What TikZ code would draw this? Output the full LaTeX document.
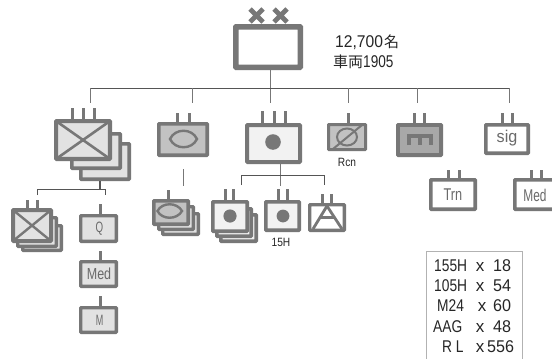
\documentclass[tikz,border=0pt]{standalone}
\usepackage{fontspec}
\setmainfont{Liberation Sans}
\newfontfamily\cjk{Noto Sans CJK JP}
\newcommand{\nar}[2][0.72]{\scalebox{#1}[1]{#2}}
\newcommand{\fs}[1]{\fontsize{#1}{#1}\selectfont}
\tikzset{
  x=1pt,y=-1pt,
  bd/.style={draw=bordergray,line width=#1,rounded corners=0.6pt},
  bd/.default=3.6pt,
  link/.style={draw=linkgray,line width=1pt},
  vlink/.style={draw=bordergray,line width=1pt},
  tick/.style={draw=bordergray,line width=3pt},
  txt/.style={inner sep=0pt,text=textgray},
  sym/.style={draw=bordergray,line width=3pt},
  dot/.style={fill=bordergray},
  plain/.style={inner sep=0pt,text=black!85},
}
\definecolor{bordergray}{HTML}{777777}
\definecolor{linkgray}{HTML}{555555}
\definecolor{textgray}{HTML}{6A6A6A}
\definecolor{lg}{HTML}{E2E2E2}
\definecolor{mg}{HTML}{C2C2C2}
\definecolor{dg}{HTML}{A8A8A8}
\definecolor{wg}{HTML}{F2F2F2}
% #1 fill, #2 x0, #3 y0, #4 x1, #5 y1 (outer edges), #6 border width
\newcommand{\ubox}[6]{\path[bd=#6,fill=#1] ({#2+#6/2},{#3+#6/2}) rectangle ({#4-#6/2},{#5-#6/2});}
\newcommand{\utick}[3]{\draw[tick] (#1,#2) -- (#1,#3);}
\newcommand{\trow}[7]{%
  \node[plain,anchor=base west] at (#2,#1) {\fs{17}\nar[0.81]{#3}};
  \node[plain,anchor=base] at (#4,#1) {\fs{17}x};
  \node[plain,anchor=base west] at (#5,#1) {\fs{17}\nar[#7]{#6}};
}
\begin{document}
\begin{tikzpicture}
\useasboundingbox (0,0) rectangle (552,359);
\fill[white] (0,0) rectangle (552,359);
% ---- division HQ
\coordinate (hqb) at (270,70);
\draw[sym,line width=4.8pt] (250,9) -- (263,22) (263,9) -- (250,22) (274,9) -- (287,22) (287,9) -- (274,22);
\ubox{white}{233}{24}{303}{70}{5.5}
\node[plain,anchor=base west] (strength) at (335,47) {\fs{17}\nar[0.92]{12,700}\hspace{1pt}{\cjk\fs{15}名}};
\node[plain,anchor=base west] (veh) at (333,67) {{\cjk\fs{15}車両}\fs{17}\nar[0.8]{1905}};
% ---- main tree
\coordinate (bL) at (90,88); \coordinate (bR) at (509,88);
\draw[vlink] (hqb) -- (270,103);
\draw[link] (bL) -- (bR);
\foreach \xx in {90,192,348,417,509}
  \draw[vlink] (\xx,88) -- (\xx,103);
% ---- node 1: brigade stack
\ubox{lg}{79}{142}{131}{181}{3.6}
\ubox{lg}{70}{132}{122}{170}{3.6}
\ubox{lg}{54}{119}{112}{161}{4.2}
\draw[sym,line width=2.6pt] (56,121) -- (110,159) (110,121) -- (56,159);
\utick{72}{108}{119}\utick{83}{108}{119}\utick{94}{108}{119}
\draw[link,line width=1.6pt] (100,181) -- (100,189);
\draw[link] (37,195) -- (37,189) -- (105,189) -- (105,195);
% sub stack
\ubox{lg}{21}{224}{63}{252}{3.4}
\ubox{lg}{16}{216}{58}{248}{3.4}
\ubox{lg}{11}{208}{53}{243}{4}
\draw[sym,line width=2.4pt] (13,210) -- (51,241) (51,210) -- (13,241);
\utick{27}{200}{208}\utick{37}{200}{208}
% Q Med M
\utick{100}{204}{214}\ubox{lg}{79}{214}{118}{243}{3.4}
\node[txt] (q) at (99.5,228.5) {\fs{15}\nar[0.65]{Q}};
\utick{100}{251}{260}\ubox{lg}{79}{260}{118}{288}{3.4}
\node[txt] (med) at (99,274) {\fs{16}\nar[0.78]{Med}};
\utick{100}{296}{306}\ubox{lg}{79}{306}{118}{334}{3.4}
\node[txt] (m) at (99.5,320) {\fs{15}\nar[0.6]{M}};
% ---- node 2
\utick{177}{113}{122}\utick{189}{113}{122}
\ubox{mg}{157}{122}{209}{157}{3.6}
\draw[sym,line width=2.4pt] (170,139) .. controls (175,128) and (192,128) .. (197,139) .. controls (192,150) and (175,150) .. (170,139) -- cycle;
\draw[vlink] (183,169) -- (183,186);
\ubox{lg}{161}{212}{200}{236}{3.4}
\ubox{lg}{157}{205}{195}{231}{3.4}
\ubox{mg}{152}{199}{190}{226}{3.6}
\utick{168}{190}{199}
\draw[sym,line width=2.4pt] (157.5,211) .. controls (162,202) and (177,202) .. (182,211) .. controls (177,220) and (162,220) .. (157.5,211) -- cycle;
% ---- node 3
\utick{262}{111}{123}\utick{274}{111}{123}\utick{285}{111}{123}
\ubox{wg}{245}{123}{302}{164}{4}
\fill[dot] (273,142) circle (7.8);
\draw[vlink] (280,164) -- (280,186);
\draw[link] (241,185) -- (241,175) -- (324,175) -- (324,185);
% its three children
\ubox{wg}{219}{213}{258}{243}{3.6}
\ubox{wg}{215}{207}{253}{238}{3.6}
\ubox{wg}{211}{200}{249}{233}{3.6}
\utick{225}{189}{200}\utick{233}{189}{200}
\fill[dot] (230,216) circle (6.6);
\utick{278}{189}{200}\utick{287}{189}{200}
\ubox{wg}{264}{200}{301}{232}{3.6}
\fill[dot] (283,216) circle (6.4);
\node[plain,anchor=base] (h15) at (281,246) {\fs{12}\nar[0.85]{15H}};
\utick{322}{194}{203}\utick{331}{194}{203}
\ubox{white}{308}{203}{346}{232}{3.4}
\draw[sym,line width=2.8pt,line join=miter] (313,229) -- (327,206) -- (342,229) (319,217.5) -- (335,217.5);
% ---- Rcn
\utick{348}{113}{123}
\ubox{mg}{327}{123}{367}{151}{3}
\draw[sym,line width=2pt] (347,137) ellipse (10 and 8.5);
\draw[sym,line width=2pt] (333,149) -- (362,125);
\node[plain,anchor=base] (rcn) at (347,166) {\fs{12}\nar[0.85]{Rcn}};
% ---- engineers
\utick{414}{113}{123}\utick{424}{113}{123}
\ubox{dg}{396}{123}{443}{157}{3.8}
\draw[sym,line width=4pt,line join=miter] (409,145) -- (409,135.5) -- (431,135.5) -- (431,145) (420,135.5) -- (420,145);
% ---- signals
\utick{502}{113}{123}\utick{512}{113}{123}
\ubox{white}{484}{123}{530}{155}{3.6}
\node[txt] (sig) at (507,138) {\fs{17}\nar[0.95]{sig}};
% ---- Trn / Med
\utick{448}{170}{178}\utick{459}{170}{178}
\ubox{white}{429}{178}{477}{211}{3.6}
\node[txt] (trn) at (453,195) {\fs{17}\nar[0.75]{Trn}};
\utick{531}{170}{178}\utick{541}{170}{178}
\ubox{white}{513}{178}{560}{211}{3.6}
\node[txt] (med2) at (535,195) {\fs{17}\nar[0.7]{Med}};
% ---- equipment table
\draw[draw=black!30,line width=1pt] (426,362) -- (426,251) -- (522,251) -- (522,362);
\trow{271}{434}{155H}{480}{493}{18}{0.95}
\trow{291}{434}{105H}{480}{493}{54}{0.95}
\trow{311}{437}{M24}{482}{493}{60}{0.95}
\trow{332}{433}{AAG}{480}{493}{48}{0.95}
\trow{352}{442}{R L}{480}{487}{556}{0.95}
\end{tikzpicture}
\end{document}
